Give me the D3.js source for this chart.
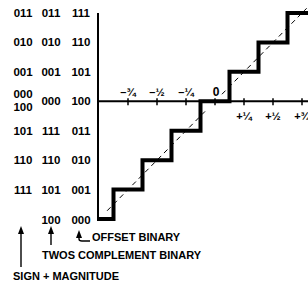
<!DOCTYPE html>
<html>
<head>
<meta charset="utf-8">
<script src="https://cdn.jsdelivr.net/npm/d3@7"></script>
<style>
body { margin: 0; background: #fff; }
text { font-family: "Liberation Sans", Arial, sans-serif; font-weight: bold; fill: #000; }
</style>
</head>
<body>
<svg id="chart" width="308" height="283"></svg>
<script>
// output levels, bottom (000 offset) to top (111 offset)
var levels = [-1, -0.75, -0.5, -0.25, 0, 0.25, 0.5, 0.75]
var offsetBinary = ['000', '001', '010', '011', '100', '101', '110', '111']
var twosComplement = ['100', '101', '110', '111', '000', '001', '010', '011']
var signMagnitude = ['', '111', '110', '101', '000|100', '001', '010', '011']

// input thresholds where the code changes
var thresholds = [-0.875, -0.625, -0.375, -0.125, 0.125, 0.375, 0.625]

var tickValues = [-0.75, -0.5, -0.25, 0, 0.25, 0.5, 0.75]
var tickLabels = ['\u2013\u00be', '\u2013\u00bd', '\u2013\u00bc', '0', '+\u00bc', '+\u00bd', '+\u00be']

var svg = d3.select('#chart')

var x = d3.scaleLinear().domain([-1, 0.75]).range([99, 302])
var y = d3.scaleLinear().domain([-1, 0.75]).range([219, 13])

//MARK: axes
svg.append('line')
	.attr('x1', x(-1) - 1).attr('x2', 308)
	.attr('y1', y(0)).attr('y2', y(0))
	.attr('stroke', '#000').attr('stroke-width', 2)

svg.append('line')
	.attr('x1', x(-1) - 1).attr('x2', x(-1) - 1)
	.attr('y1', 13).attr('y2', y(-1) + 2)
	.attr('stroke', '#000').attr('stroke-width', 2)

svg.selectAll('.tick').data(tickValues)
	.enter().append('line')
		.attr('class', 'tick')
		.attr('x1', d => x(d)).attr('x2', d => x(d))
		.attr('y1', y(0) - 3).attr('y2', y(0) + 4)
		.attr('stroke', '#000').attr('stroke-width', 1.5)

svg.selectAll('.ticklabel').data(tickValues)
	.enter().append('text')
		.attr('class', 'ticklabel')
		.attr('x', (d, i) => d == 0 ? x(d) + 1 : x(d))
		.attr('y', d => d > 0 ? y(0) + 15 : y(0) - 9)
		.attr('text-anchor', 'middle')
		.attr('dominant-baseline', 'central')
		.style('font-size', (d) => d == 0 ? '12px' : '11px')
		.text((d, i) => tickLabels[i])

//MARK: ideal transfer line (dashed)
var ideal = [[-0.93, -0.086], [0.06, 0.79]]
ideal.forEach(function(seg) {
	svg.append('line')
		.attr('x1', x(seg[0])).attr('y1', y(seg[0]))
		.attr('x2', x(seg[1])).attr('y2', y(seg[1]))
		.attr('stroke', '#000').attr('stroke-width', 1)
		.attr('stroke-dasharray', '5,4')
})

//MARK: staircase
var stairs = [[-1, levels[0]]]
for (var i = 0; i < thresholds.length; i++) {
	stairs.push([thresholds[i], levels[i]])
	stairs.push([thresholds[i], levels[i + 1]])
}
stairs.push([1, levels[levels.length - 1]])

svg.append('path')
	.attr('d', d3.line().x(d => x(d[0])).y(d => y(d[1]))(stairs))
	.attr('fill', 'none')
	.attr('stroke', '#000')
	.attr('stroke-width', 4)
	.attr('stroke-linejoin', 'miter')

//MARK: code columns
var columns = [
	{ codes: signMagnitude, cx: 23 },
	{ codes: twosComplement, cx: 51 },
	{ codes: offsetBinary, cx: 81 },
]

columns.forEach(function(col) {
	col.codes.forEach(function(code, k) {
		var parts = code.split('|')
		var cy = y(levels[k])
		if (k == 0) cy = cy + 1
		parts.forEach(function(p, j) {
			var off = parts.length > 1 ? (j == 0 ? -7 : 6) : 0
			svg.append('text')
				.attr('x', col.cx)
				.attr('y', cy + off)
				.attr('text-anchor', 'middle')
				.attr('dominant-baseline', 'central')
				.style('font-size', '11.5px')
				.text(p)
		})
	})
})

//MARK: arrows + legend
var arrowHead = function(ax, ay) {
	svg.append('path')
		.attr('d', 'M' + ax + ',' + ay + 'L' + (ax - 3) + ',' + (ay + 8) + 'L' + (ax + 3) + ',' + (ay + 8) + 'Z')
		.attr('fill', '#000')
}

arrowHead(21, 226)
svg.append('line').attr('x1', 21).attr('x2', 21).attr('y1', 232).attr('y2', 267)
	.attr('stroke', '#000').attr('stroke-width', 1.4)

arrowHead(51, 226)
svg.append('line').attr('x1', 51).attr('x2', 51).attr('y1', 232).attr('y2', 245)
	.attr('stroke', '#000').attr('stroke-width', 1.4)

arrowHead(79, 230)
svg.append('path').attr('d', 'M79,236 L79,239 Q79,241 82,241 L90,241')
	.attr('fill', 'none').attr('stroke', '#000').attr('stroke-width', 1.4)

var legend = [
	{ label: 'OFFSET BINARY', lx: 92, ly: 237 },
	{ label: 'TWOS COMPLEMENT BINARY', lx: 42, ly: 255 },
	{ label: 'SIGN + MAGNITUDE', lx: 13, ly: 276 },
]

svg.selectAll('.legend').data(legend)
	.enter().append('text')
		.attr('class', 'legend')
		.attr('x', d => d.lx)
		.attr('y', d => d.ly)
		.attr('dominant-baseline', 'central')
		.style('font-size', '11px')
		.text(d => d.label)
</script>
</body>
</html>
